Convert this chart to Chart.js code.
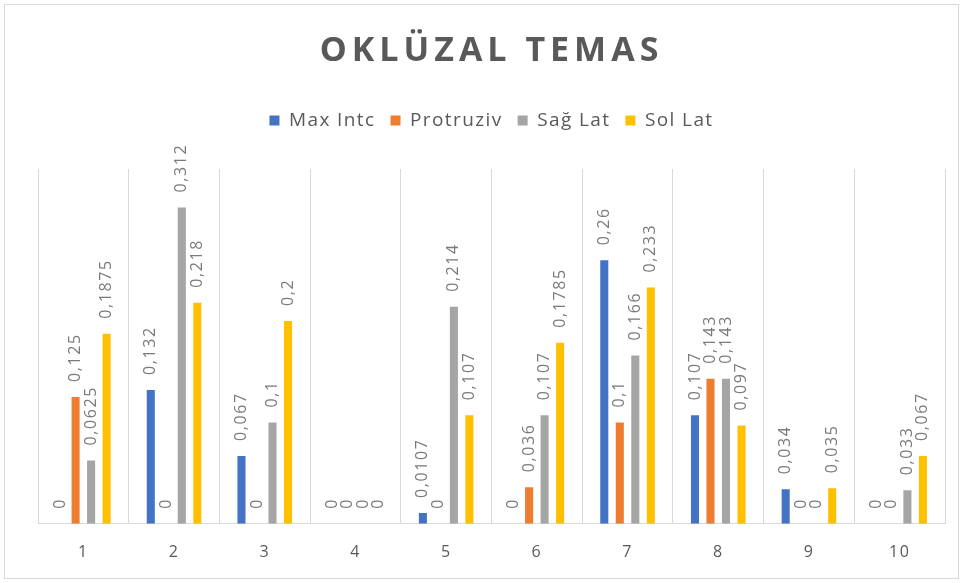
<!DOCTYPE html>
<html>
<head>
<meta charset="utf-8">
<script src="https://cdn.jsdelivr.net/npm/chart.js@4"></script>
<style>
  html, body { margin: 0; padding: 0; background: #fff; }
  #wrap { width: 963px; height: 583px; position: relative; }
</style>
</head>
<body>
<div id="wrap"><canvas id="temasChart" width="963" height="583"></canvas></div>
<script>
const chartTitle = 'OKLÜZAL TEMAS';
const categories = ['1', '2', '3', '4', '5', '6', '7', '8', '9', '10'];
const maxIntc   = [0, 0.132, 0.067, 0, 0.0107, 0, 0.26, 0.107, 0.034, 0];
const protruziv = [0.125, 0, 0, 0, 0, 0.036, 0.1, 0.143, 0, 0];
const sagLat    = [0.0625, 0.312, 0.1, 0, 0.214, 0.107, 0.166, 0.143, 0, 0.033];
const solLat    = [0.1875, 0.218, 0.2, 0, 0.107, 0.1785, 0.233, 0.097, 0.035, 0.067];

const textGray = '#595959';
const gridGray = '#d9d9d9';

// Excel-like stretched text: a bit of letter spacing on everything
const spacing = {
  id: 'spacing',
  beforeInit(chart) {
    const fit = chart.legend.fit;
    chart.legend.fit = function () {
      fit.call(this);
      this.height += 29;
    };
  },
  beforeLayout(chart) { chart.ctx.letterSpacing = '1.4px'; },
  beforeDraw(chart) {
    const ctx = chart.ctx;
    ctx.letterSpacing = '1.4px';
    ctx.save();
    ctx.fillStyle = '#fff';
    ctx.fillRect(0, 0, chart.width, chart.height);
    ctx.strokeStyle = gridGray;
    ctx.lineWidth = 1;
    ctx.strokeRect(4.5, 4.5, chart.width - 9, chart.height - 9);
    // title
    ctx.font = 'bold 34px "Open Sans"';
    ctx.letterSpacing = '5px';
    ctx.fillStyle = textGray;
    ctx.textAlign = 'center';
    ctx.textBaseline = 'middle';
    ctx.fillText(chartTitle, chart.width / 2 + 10, 51);
    ctx.restore();
  }
};

const valueLabels = {
  id: 'valueLabels',
  afterDatasetsDraw(chart) {
    const ctx = chart.ctx;
    ctx.save();
    ctx.font = '16px "Open Sans"';
    ctx.letterSpacing = '1.6px';
    ctx.fillStyle = '#7a7a7a';
    ctx.textAlign = 'left';
    ctx.textBaseline = 'middle';
    chart.data.datasets.forEach((ds, i) => {
      chart.getDatasetMeta(i).data.forEach((bar, j) => {
        ctx.save();
        ctx.translate(bar.x, bar.y - 15);
        ctx.rotate(-Math.PI / 2);
        ctx.fillText(String(ds.data[j]).replace('.', ','), 0, 0);
        ctx.restore();
      });
    });
    ctx.restore();
  }
};

const ctx = document.getElementById('temasChart').getContext('2d');
const series = [
  { label: 'Max Intc', data: maxIntc, color: '#4472C4' },
  { label: 'Protruziv', data: protruziv, color: '#ED7D31' },
  { label: 'Sağ Lat', data: sagLat, color: '#A5A5A5' },
  { label: 'Sol Lat', data: solLat, color: '#FFC000' }
];

new Chart(ctx, {
  type: 'bar',
  data: {
    labels: categories,
    datasets: series.map(s => ({
      label: s.label,
      data: s.data,
      backgroundColor: s.color,
      borderWidth: 0,
      categoryPercentage: 0.684,
      barPercentage: 0.52
    }))
  },
  options: {
    responsive: false,
    animation: false,
    devicePixelRatio: 1,
    layout: { padding: { left: 38, right: 18, top: 96, bottom: 2 } },
    scales: {
      x: {
        grid: { color: gridGray, drawTicks: false, offset: true },
        border: { color: gridGray },
        ticks: { color: textGray, font: { family: 'Open Sans', size: 16 }, padding: 19 }
      },
      y: {
        display: false,
        min: 0,
        max: 0.35
      }
    },
    plugins: {
      legend: {
        position: 'top',
        labels: {
          color: textGray,
          font: { family: 'Open Sans', size: 19 },
          boxWidth: 10,
          boxHeight: 10,
          padding: 15
        }
      },
      title: { display: false },
      tooltip: { enabled: false }
    }
  },
  plugins: [spacing, valueLabels]
});
</script>
</body>
</html>
